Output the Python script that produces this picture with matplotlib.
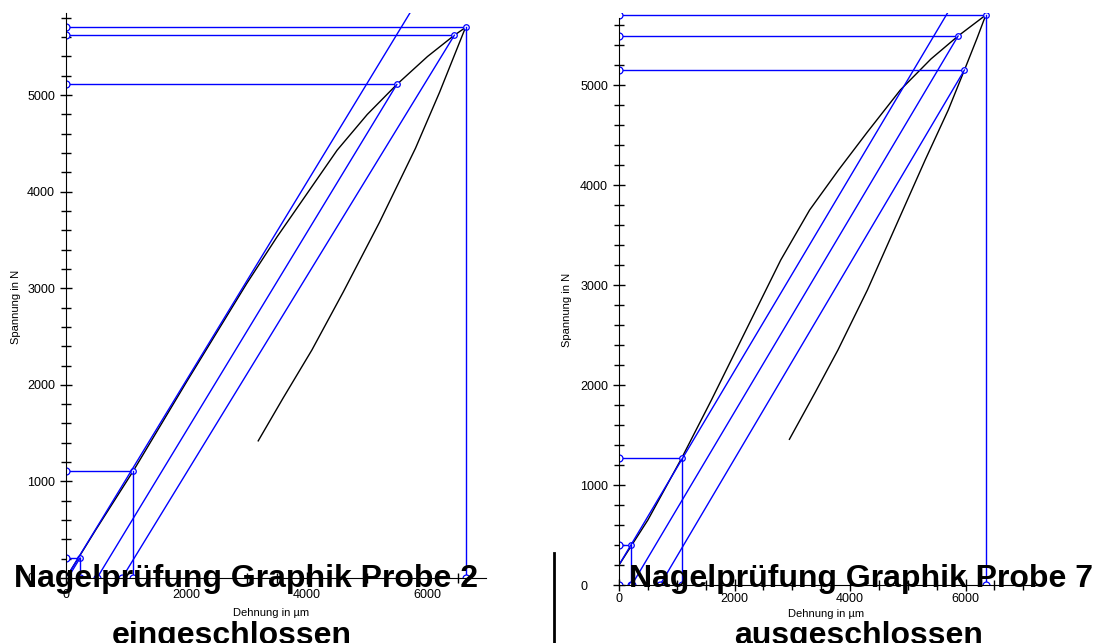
import matplotlib
matplotlib.use("Agg")
import matplotlib.pyplot as plt
from matplotlib.ticker import MultipleLocator
from matplotlib.lines import Line2D

plt.rcParams['font.family'] = ['Liberation Sans', 'DejaVu Sans']

# ---- Probe 2 (eingeschlossen) ----
p2_load_x = [0, 500, 1118, 2000, 3000, 3500, 4000, 4500, 5000, 5490, 6000, 6445, 6630]
p2_load_y = [0, 505, 1110, 2030, 3050, 3530, 3980, 4430, 4800, 5110, 5400, 5620, 5700]
p2_unl_x = [3190, 3600, 4080, 4600, 5200, 5800, 6200, 6630]
p2_unl_y = [1420, 1860, 2360, 2960, 3680, 4450, 5030, 5700]
p2_levels = [5700, 5620, 5110, 1110, 207]        # horizontal guide lines
p2_level_x = [6630, 6445, 5490, 1118, 233]       # where they hit the curve
p2_drop_idx = [0, 3, 4]                          # points with a vertical drop
p2_el_x0 = [0, 30, 515, 930]                     # elastic lines: start on x axis
p2_el_x1 = [5800, 233, 5490, 6445]
p2_el_y1 = [5945, 207, 5110, 5620]
p2_base_x = [0, 233, 515, 930, 1118, 6630]

# ---- Probe 7 (ausgeschlossen) ----
p7_load_x = [0, 500, 1086, 1600, 2200, 2800, 3300, 3800, 4300, 4870, 5400, 5870, 6350]
p7_load_y = [200, 650, 1270, 1850, 2550, 3250, 3750, 4150, 4530, 4950, 5260, 5490, 5700]
p7_unl_x = [2950, 3400, 3790, 4300, 4800, 5300, 5700, 5980, 6200, 6350]
p7_unl_y = [1457, 1930, 2350, 2950, 3600, 4250, 4750, 5150, 5470, 5700]
p7_levels = [5700, 5490, 5150, 1270, 400]
p7_level_x = [6350, 5870, 5980, 1086, 210]
p7_drop_idx = [0, 3, 4]
p7_el_x0 = [0, 220, 710]
p7_el_y0 = [200, 0, 0]
p7_el_x1 = [5800, 5870, 5980]
p7_el_y1 = [5830, 5490, 5150]
p7_base_x = [0, 210, 220, 710, 1086, 6350]

BLUE = '#0000ff'
W, H = 1098, 643
fig = plt.figure(figsize=(W / 100, H / 100), dpi=100)


def px_axes(x0, x1, ybot, ytop):
    return fig.add_axes([x0 / W, 1 - ybot / H, (x1 - x0) / W, (ybot - ytop) / H])


def draw(ax, load_x, load_y, unl_x, unl_y, levels, level_x, drop_idx,
         el_x0, el_y0, el_x1, el_y1, base_x, xmax, ymax, spine_top, xpad):
    ax.plot(load_x, load_y, color='black', lw=1)
    ax.plot(unl_x, unl_y, color='black', lw=1)
    for yv, xv in zip(levels, level_x):
        ax.plot([0, xv], [yv, yv], color=BLUE, lw=1)
        ax.plot([0], [yv], 'o', ms=5, mfc='white', mec=BLUE, mew=0.9)
        ax.plot([xv], [yv], 'o', ms=4, mfc='white', mec=BLUE, mew=0.9)
    for i in drop_idx:
        ax.plot([level_x[i], level_x[i]], [0, levels[i]], color=BLUE, lw=1)
    for a, b, c, d in zip(el_x0, el_y0, el_x1, el_y1):
        ax.plot([a, c], [b, d], color=BLUE, lw=1)
    for xv in base_x:
        ax.plot([xv], [0], 'o', ms=5, mfc='white', mec=BLUE, mew=0.9)

    ax.set_xlim(0, xmax)
    ax.set_ylim(0, ymax)
    for s in ['top', 'right']:
        ax.spines[s].set_visible(False)
    ax.spines['left'].set_bounds(0, spine_top)
    ax.xaxis.set_major_locator(MultipleLocator(2000))
    ax.xaxis.set_minor_locator(MultipleLocator(500))
    ax.yaxis.set_major_locator(MultipleLocator(1000))
    ax.yaxis.set_minor_locator(MultipleLocator(200))
    ax.tick_params(which='major', direction='inout', length=8, width=1, labelsize=9)
    ax.tick_params(which='minor', direction='inout', length=7, width=1)
    ax.tick_params(axis='y', which='major', pad=24)
    for lab in ax.get_yticklabels():
        lab.set_horizontalalignment('left')
    ax.tick_params(axis='x', which='major', pad=xpad)


ax1 = px_axes(66, 486, 578, 13)
draw(ax1, p2_load_x, p2_load_y, p2_unl_x, p2_unl_y, p2_levels, p2_level_x,
     p2_drop_idx, p2_el_x0, [0] * len(p2_el_x0), p2_el_x1, p2_el_y1,
     p2_base_x, 6970, 5850, 5850, 4)

ax2 = px_axes(619, 1043, 585, 13)
draw(ax2, p7_load_x, p7_load_y, p7_unl_x, p7_unl_y, p7_levels, p7_level_x,
     p7_drop_idx, p7_el_x0, p7_el_y0, p7_el_x1, p7_el_y1,
     p7_base_x, 7340, 5720, 5670, 1.5)

# axis labels
for xc, yc in [(16, 307), (567, 310)]:
    fig.text(xc / W, 1 - yc / H, 'Spannung in N', rotation=90, fontsize=8,
             ha='center', va='center')
for xc, yc in [(271, 613), (826, 614)]:
    fig.text(xc / W, 1 - yc / H, 'Dehnung in µm', fontsize=8, ha='center',
             va='center', zorder=6,
             bbox=dict(facecolor='white', edgecolor='none', pad=1.5))

# titles
tfont = dict(fontsize=23, fontweight='bold', ha='center', va='baseline', zorder=5)
fig.text(246 / W, 1 - 587 / H, 'Nagelprüfung Graphik Probe 2', **tfont)
fig.text(232 / W, 1 - 644 / H, 'eingeschlossen', **tfont)
fig.text(861 / W, 1 - 587 / H, 'Nagelprüfung Graphik Probe 7', **tfont)
fig.text(859 / W, 1 - 644 / H, 'ausgeschlossen', **tfont)

# separator line between the two charts
fig.add_artist(Line2D([553.5 / W, 553.5 / W], [0, 1 - 553 / H], color='black', lw=2))

fig.savefig('out.png', dpi=100)
